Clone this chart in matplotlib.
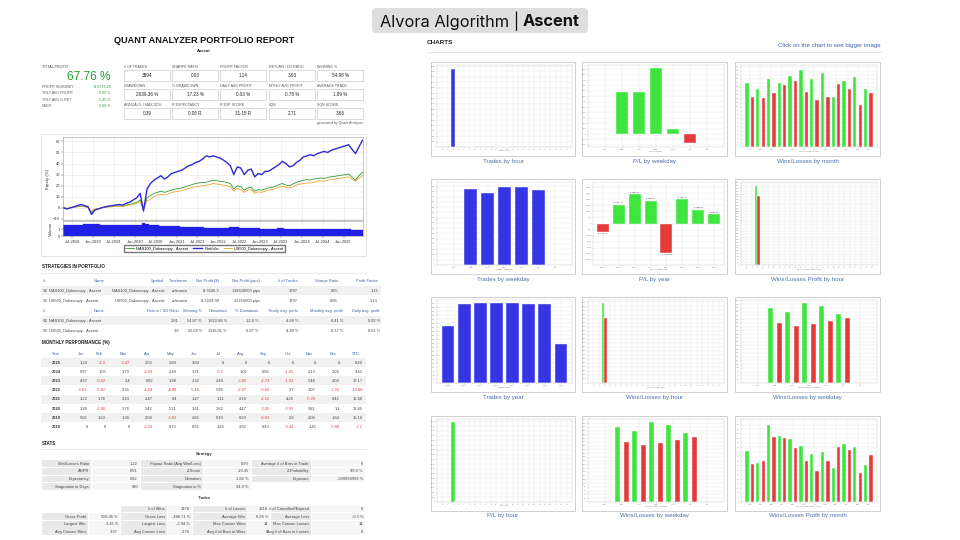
import matplotlib
matplotlib.use('Agg')
import matplotlib.pyplot as plt
import matplotlib.dates as mdates
from matplotlib.patches import Rectangle, FancyBboxPatch
from matplotlib.ticker import MaxNLocator, FuncFormatter
import pandas as pd

plt.rcParams['font.family'] = ['Liberation Sans', 'DejaVu Sans']

# ---------------- data ----------------
stat_labels = [['# OF TRADES', 'SHARPE RATIO', 'PROFIT FACTOR', 'RETURN / DD RATIO', 'WINNING %'],
               ['DRAWDOWN', '% DRAWDOWN', 'DAILY AVG PROFIT', 'MTHLY AVG PROFIT', 'AVERAGE TRADE'],
               ['ANNUAL% / MAX DD%', 'R EXPECTANCY', 'R EXP SCORE', 'SQN', 'SQN SCORE']]
stat_values = [['3594', '0.03', '1.14', '3.93', '54.98 %'],
               ['2639.36 %', '17.23 %', '0.03 %', '0.78 %', '1.89 %'],
               ['0.39', '0.06 R', '31.15 R', '2.71', '3.66']]
left_labels = ['PROFIT IN MONEY', 'YRLY AVG PROFIT', 'YRLY AVG % RET', 'CAGR']
left_values = ['$ 6776.29', '9.05 %', '5.35 %', '5.68 %']

# monthly equity (%) Apr-2018 .. Jun-2025
portfolio = [0, -1, 0, 1, 2, 3, 2, 1, -6,
             -2, -1, 0, 1, 1.5, 2, 2.5, 3, 2.5, 4, 5, 7,
             9, 13, -3, 17, 22, 25, 27, 29, 26, 28, 31, 32,
             33, 34, 36, 38, 39, 41, 42, 44, 47, 46, 47, 46,
             45, 43, 41, 38, 30, 37, 36, 30, 34, 35, 28, 31,
             30, 33, 33, 35, 37, 39, 42, 40, 37, 38, 41, 43,
             46, 47, 48, 47, 49, 50, 51, 50, 52, 53, 54, 55,
             56, 57, 53, 49, 55, 61]
nas100 = [0, -0.5, 0, 0.5, 1, 1.5, 1, 0.5, -4,
          -1.5, -0.5, 0, 0.5, 1, 1.2, 1.5, 1.8, 1.5, 2.5, 3, 4,
          5, 7, -2, 9, 11, 13, 14, 15, 14, 15, 16, 17,
          17.5, 18, 19, 20, 21, 22, 22.5, 23, 23, 24, 25, 24.5,
          24, 23.5, 23, 22, 17, 20, 19, 16, 18, 18.5, 15, 16.5,
          16, 17, 18, 18.5, 19.5, 21, 22, 20.5, 20, 21.5, 23, 24,
          25, 25.5, 25, 26, 26.5, 27, 26.5, 27.5, 28, 28.5, 29, 29.5,
          30, 30.5, 28, 25, 29, 32]
us500 = [0, -0.5, 0, 0.5, 1, 1.5, 1, 0.5, -3,
         -1, -0.5, 0, 0.5, 0.8, 1, 1.2, 1.5, 1.2, 2, 2.5, 3,
         4, 5.5, -1, 6, 8, 10, 11.5, 12.5, 11.5, 12.5, 13.5, 14.5,
         15, 15.5, 16.5, 17.5, 18.5, 19, 19.5, 20, 20.5, 21, 22, 21.5,
         21, 20.5, 20, 19, 15, 17.5, 16.5, 14, 16, 16.5, 13, 14.5,
         14, 15, 16, 16.5, 17.5, 18.5, 19.5, 18.5, 18, 19, 20.5, 21.5,
         22, 22.5, 22.5, 23, 24, 24.5, 24, 25, 25.5, 26, 26.5, 27,
         27.5, 28, 26, 24, 26.5, 29]
volume = [1.6, 1.6, 1.6, 1.6, 1.6, 1.6, 1.65, 1.65, 1.7,
          1.7, 1.65, 1.6, 1.6, 1.55, 1.55, 1.55, 1.5, 1.5, 1.5, 1.5, 1.5,
          1.5, 1.55, 1.8, 1.7, 1.6, 1.55, 1.5, 1.45, 1.45, 1.45, 1.4, 1.4,
          1.4, 1.35, 1.35, 1.3, 1.3, 1.3, 1.25, 1.25, 1.2, 1.2, 1.15, 1.15,
          1.1, 1.15, 1.2, 1.25, 1.3, 1.25, 1.2, 1.2, 1.2, 1.15, 1.15, 1.1,
          1.05, 1.05, 1.05, 1.0, 1.05, 1.1, 1.1, 1.05, 1.05, 1.0, 1.0, 1.0,
          1.0, 1.0, 1.0, 1.0, 1.0, 1.0, 0.95, 0.95, 0.95, 0.95, 0.95, 0.95,
          0.95, 0.95, 0.9, 0.9, 0.9, 0.9]
eq_dates = pd.date_range('2018-04-01', periods=len(portfolio), freq='MS') + pd.Timedelta(days=14)

strat_hdr1 = ['#', 'Name', 'Symbol', 'Timeframe', 'Net Profit ($)', 'Net Profit (pips)', '# of Trades', 'Sharpe Ratio', 'Profit Factor']
strat_rows1 = [['S2', 'NAS100_Dukascopy - Ascent', 'NAS100_Dukascopy - Ascent', 'unknown', '$ 3546.3', '119628000 pips', '1797', '0.05', '1.15'],
               ['S3', 'US500_Dukascopy - Ascent', 'US500_Dukascopy - Ascent', 'unknown', '$ 3229.99', '32216000 pips', '1797', '0.06', '1.13']]
strat_hdr2 = ['#', 'Name', 'Return / DD Ratio', 'Winning %', 'Drawdown', '% Drawdown', 'Yearly avg. profit', 'Monthly avg. profit', 'Daily avg. profit']
strat_rows2 = [['S2', 'NAS100_Dukascopy - Ascent', '2.81', '54.87 %', '1622.68 %', '12.6 %', '4.89 %', '0.41 %', '0.02 %'],
               ['S3', 'US500_Dukascopy - Ascent', '3.6', '55.09 %', '1116.01 %', '6.97 %', '4.48 %', '0.37 %', '0.01 %']]

month_hdr = ['Year', 'Jan', 'Feb', 'Mar', 'Apr', 'May', 'Jun', 'Jul', 'Aug', 'Sep', 'Oct', 'Nov', 'Dec', 'YTD']
perf_years = ['2025', '2024', '2023', '2022', '2021', '2020', '2019', '2018']
perf_rows = [['1.24', '-1.0', '-3.47', '2.53', '3.84', '3.84', '0', '0', '0', '0', '0', '0', '8.48'],
             ['0.97', '1.55', '1.73', '-2.59', '2.49', '1.71', '-0.2', '1.02', '0.58', '-1.01', '2.13', '2.04', '9.42'],
             ['4.97', '-0.62', '2.4', '0.02', '1.98', '3.32', '2.44', '-3.05', '-2.73', '-1.32', '5.48', '2.09', '17.17'],
             ['-3.61', '-0.92', '2.35', '-4.18', '-4.90', '-5.16', '5.98', '-2.07', '-6.82', '3.7', '3.07', '-7.03', '-19.68'],
             ['1.22', '1.78', '3.24', '2.47', '0.4', '1.47', '1.11', '2.18', '-2.52', '4.26', '-0.26', '0.42', '15.68'],
             ['1.38', '-2.96', '3.76', '5.42', '5.31', '1.61', '1.62', '4.47', '-3.92', '-0.93', '5.81', '1.1', '22.65'],
             ['5.02', '1.63', '1.36', '2.04', '-3.81', '2.85', '0.19', '0.29', '-0.93', '2.9', '2.06', '1.84', '16.16'],
             ['0', '0', '0', '-2.22', '0.73', '0.93', '1.45', '2.62', '0.43', '-3.34', '1.45', '-5.68', '-7.2']]

strategy_stats = [['Win/Losses Ratio', '1.22', 'Payout Ratio (Avg Win/Loss)', '0.93', 'Average # of Bars in Trade', '0'],
                  ['AHPR', '0.01', 'Z-Score', '-20.35', 'Z-Probability', '99.9 %'],
                  ['Expectancy', '0.02', 'Deviation', '1.82 %', 'Exposure', '-999999999 %'],
                  ['Stagnation in Days', '920', 'Stagnation in %', '34.9 %', '', '']]
trade_stats = [['', '', '# of Wins', '1976', '# of Losses', '1618', '# of Cancelled/Expired', '0'],
               ['Gross Profit', '556.45 %', 'Gross Loss', '-488.71 %', 'Average Win', '0.28 %', 'Average Loss', '-0.3 %'],
               ['Largest Win', '3.45 %', 'Largest Loss', '-2.94 %', 'Max Consec Wins', '14', 'Max Consec Losses', '14'],
               ['Avg Consec Wins', '3.37', 'Avg Consec Loss', '2.76', 'Avg # of Bars in Wins', '0', 'Avg # of Bars in Losses', '0']]

hours = list(range(24))
trades_by_hour = [0, 0, 3594] + [0] * 21
pl_by_hour = [0, 0, 6776.29] + [0] * 21
wins_by_hour = [0, 0, 1976] + [0] * 21
losses_by_hour = [0, 0, 1618] + [0] * 21
win_profit_by_hour = [0, 0, 556.45] + [0] * 21
loss_profit_by_hour = [0, 0, 488.71] + [0] * 21
weekdays = ['Sun', 'Mon', 'Tue', 'Wed', 'Thu', 'Fri', 'Sat']
pl_by_weekday = [0, 1950, 1950, 3040, 257, -423, 0]
trades_by_weekday = [0, 720, 682, 738, 738, 716, 0]
wins_by_weekday = [0, 397, 378, 424, 408, 369, 0]
losses_by_weekday = [0, 322, 304, 313, 331, 347, 0]
months = ['Jan', 'Feb', 'Mar', 'Apr', 'May', 'Jun', 'Jul', 'Aug', 'Sep', 'Oct', 'Nov', 'Dec']
wins_by_month = [161, 146, 171, 160, 178, 193, 171, 186, 126, 165, 174, 146]
losses_by_month = [124, 123, 134, 155, 164, 138, 118, 126, 158, 146, 105, 134]
win_profit_by_month = [44.6, 34.0, 68.0, 58.1, 55.4, 49.0, 41.9, 44.3, 29.6, 50.7, 48.4, 32.3]
loss_profit_by_month = [33.0, 35.7, 57.6, 56.1, 47.1, 36.5, 27.2, 35.7, 48.5, 45.3, 25.1, 40.9]
years = ['2018', '2019', '2020', '2021', '2022', '2023', '2024', '2025']
pl_by_year = [-719.42, 1577.71, 2462.35, 1908.17, -2462.48, 2047.23, 1162.05, 802.39]
trades_by_year = [357, 498, 500, 502, 500, 496, 498, 244]

BLUE, GREEN, RED = '#3535e4', '#3fe43f', '#e43a3a'
HDR = '#41609e'

# ---------------- canvas ----------------
fig = plt.figure(figsize=(9.6, 5.4), dpi=100)
bg = fig.add_axes([0, 0, 1, 1])
bg.set_xlim(0, 960)
bg.set_ylim(540, 0)
bg.axis('off')


def px_axes(x0, y0, x1, y1):
    return fig.add_axes([x0 / 960, 1 - y1 / 540, (x1 - x0) / 960, (y1 - y0) / 540])


def box(x0, y0, x1, y1, fc, ec='none', lw=0.5):
    bg.add_patch(Rectangle((x0, y0), x1 - x0, y1 - y0, fc=fc, ec=ec, lw=lw))


def txt(x, y, s, size=3.0, ha='left', color='#333333', weight='normal', **kw):
    bg.text(x, y, s, fontsize=size, ha=ha, va='center', color=color, fontweight=weight, **kw)


# header
bg.add_patch(FancyBboxPatch((372, 8), 216, 25, boxstyle='round,pad=0,rounding_size=4', fc='#dedede', ec='none'))
txt(519, 21, 'Alvora Algorithm |', size=11.8, ha='right', color='#111111', family='Inter')
txt(523, 21, 'Ascent', size=11.8, color='#111111', weight='bold', family='Inter')

# report title
txt(204, 40.5, 'QUANT ANALYZER PORTFOLIO REPORT', size=6.6, ha='center', color='#111111', weight='bold')
txt(204, 51, 'Ascent', size=3.0, ha='center', color='#222222', weight='bold')

txt(42, 66.7, 'TOTAL PROFIT', size=2.7, color='#444444')
txt(110.5, 76.5, '67.76 %', size=8.6, ha='right', color='#22a030')
for i, (lab, val) in enumerate(zip(left_labels, left_values)):
    y = 87 + i * 6.4
    txt(42, y, lab, size=2.6, color='#555555')
    txt(111, y, val, size=2.7, ha='right', color='#22a030')

stat_x = [124, 172, 220, 269, 317]
stat_rows_y = [(66.7, 69.5, 80.7), (86, 88.7, 100), (105.3, 108, 119.3)]
for r, (ly, by0, by1) in enumerate(stat_rows_y):
    for c, x in enumerate(stat_x):
        txt(x, ly, stat_labels[r][c], size=2.6, color='#555555')
        box(x, by0, x + 46, by1, fc='white', ec='#cccccc', lw=0.5)
        txt(x + 23, (by0 + by1) / 2, stat_values[r][c], size=3.3, ha='center', color='#222222')
txt(363, 122.7, 'generated by Quant Analyzer', size=2.5, ha='right', color='#555555')

# equity chart
box(41, 134, 366, 256, fc='white', ec='#dddddd', lw=0.6)
ax_eq = px_axes(63, 137, 363, 220)
ax_vol = px_axes(63, 221, 363, 236.5)
l_nas, = ax_eq.plot(eq_dates, nas100, color='#2e9a2e', lw=0.6)
l_us, = ax_eq.plot(eq_dates, us500, color='#e8a630', lw=0.6)
l_port, = ax_eq.plot(eq_dates, portfolio, color='#2b2bd0', lw=1.0)
ax_vol.bar(eq_dates, volume, width=31, color='#1f1fe6', edgecolor='#1f1fe6', lw=0.2)
x_lo, x_hi = pd.Timestamp('2018-04-10'), pd.Timestamp('2025-06-20')
for ax in (ax_eq, ax_vol):
    ax.set_xlim(x_lo, x_hi)
    ax.xaxis.set_major_locator(mdates.MonthLocator(bymonth=[1, 7]))
    ax.grid(True, color='#e8e8e8', lw=0.4)
    ax.set_axisbelow(True)
    ax.tick_params(labelsize=2.9, length=1.2, width=0.3, pad=1, colors='#333333')
    for s in ax.spines.values():
        s.set_color('#999999')
        s.set_linewidth(0.4)
ax_eq.set_ylim(-11, 64)
ax_eq.set_yticks([-10, 0, 10, 20, 30, 40, 50, 60])
ax_eq.tick_params(labelbottom=False)
ax_eq.set_ylabel('Equity (%)', fontsize=3.2, labelpad=2, color='#333333')
ax_vol.set_ylim(0, 2.1)
ax_vol.set_yticks([0, 1])
ax_vol.set_ylabel('Volume', fontsize=3.2, labelpad=3.5, color='#333333')
ax_vol.xaxis.set_major_formatter(mdates.DateFormatter('%b-%Y'))
fig.legend([l_nas, l_port, l_us], ['NAS100_Dukascopy - Ascent', 'Portfolio', 'US500_Dukascopy - Ascent'],
           loc='center', bbox_to_anchor=(204.5 / 960, 1 - 248.5 / 540), ncol=3, fontsize=2.9,
           frameon=True, fancybox=False, edgecolor='#777777', handlelength=2.2, borderpad=0.35,
           columnspacing=1.2, handletextpad=0.5, framealpha=1)

# strategies in portfolio
txt(42, 266, 'STRATEGIES IN PORTFOLIO', size=3.3, color='#222222', weight='bold')
bg.plot([41, 366], [272.5, 272.5], color='#e2e2e2', lw=0.5)
col1 = [(43, 'left'), (99, 'center'), (164, 'right'), (188, 'right'), (219, 'right'),
        (260, 'right'), (298, 'right'), (338, 'right'), (378, 'right')]
col2 = [(43, 'left'), (99, 'center'), (179, 'right'), (202, 'right'), (227, 'right'),
        (258, 'right'), (298, 'right'), (343, 'right'), (380, 'right')]
sections = [(strat_hdr1, strat_rows1, col1, 280.7), (strat_hdr2, strat_rows2, col2, 310.7)]
for hdr, rows, cols, y0 in sections:
    for (x, ha), h in zip(cols, hdr):
        txt(x, y0, h, size=2.9, ha=ha, color=HDR)
    for i, row in enumerate(rows):
        y = y0 + 10 * (i + 1)
        if i == 0:
            box(41, y - 4.5, 381, y + 4.5, fc='#f1f1f1')
        for j, ((x, ha), v) in enumerate(zip(cols, row)):
            if j == 1:
                x, ha = 49, 'left'
            txt(x, y, v, size=2.9, ha=ha, color='#444444')

# monthly performance
txt(42, 342.5, 'MONTHLY PERFORMANCE (%)', size=3.3, color='#222222', weight='bold')
mcol = [56, 87.5, 106, 130, 153, 177, 200, 224, 247, 270, 294, 316, 340, 363]
txt(mcol[0], 354, month_hdr[0], size=2.9, ha='center', color=HDR)
for x, h in zip(mcol[1:], month_hdr[1:]):
    txt(x - 3, 354, h, size=2.9, ha='right', color=HDR)
for i, (yr, row) in enumerate(zip(perf_years, perf_rows)):
    y = 362.5 + i * 9.2
    if i % 2 == 0:
        box(41, y - 4.5, 366, y + 4.5, fc='#f1f1f1')
    txt(mcol[0], y, yr, size=2.9, ha='center', color='#333333', weight='bold')
    for x, v in zip(mcol[1:], row):
        txt(x, y, v, size=2.9, ha='right', color='#e8383d' if v.startswith('-') else '#444444')

# stats
txt(42, 443.3, 'STATS', size=3.3, color='#222222', weight='bold')
bg.plot([41, 366], [448.5, 448.5], color='#e2e2e2', lw=0.5)
txt(204, 454, 'Strategy', size=3.0, ha='center', color='#333333', weight='bold')
s_cells = [(42, 92), (92, 141), (141, 204), (204, 252), (252, 312), (312, 366)]
for i, row in enumerate(strategy_stats):
    y = 463.7 + i * 7.65
    for j, ((a, b), v) in enumerate(zip(s_cells, row)):
        if v == '':
            continue
        box(a, y - 3.4, b - 0.8, y + 3.4, fc='#e9e9e9' if j % 2 == 0 else '#f6f6f6')
        txt(b - 3, y, v, size=2.9, ha='right', color='#444444')
txt(204, 498.3, 'Trades', size=3.0, ha='center', color='#333333', weight='bold')
t_cells = [(42, 89), (89, 121), (121, 168), (168, 193), (193, 248), (248, 271), (271, 312), (312, 366)]
for i, row in enumerate(trade_stats):
    y = 509 + i * 7.6
    for j, ((a, b), v) in enumerate(zip(t_cells, row)):
        if v == '':
            continue
        box(a, y - 3.4, b - 0.8, y + 3.4, fc='#e9e9e9' if j % 2 == 0 else '#f6f6f6')
        txt(b - 3, y, v, size=2.9, ha='right', color='#444444')

# charts panel
txt(427, 43, 'CHARTS', size=4.6, color='#222222', weight='bold')
txt(881, 45.5, 'Click on the chart to see bigger image', size=4.4, ha='right', color='#3f63a8')
bg.plot([427, 881], [51.5, 51.5], color='#dddddd', lw=0.6)

cols_x = [(431, 575), (582, 727), (735, 880)]
rows_y = [(62, 156), (179, 274), (297, 392), (416, 511)]


def thumb(r, c, caption, xlabel, ylim, nbins=18, left=6):
    x0, x1 = cols_x[c]
    y0, y1 = rows_y[r]
    box(x0 + 1, y0 + 1, x1 + 1, y1 + 1, fc='#eeeeee')
    box(x0, y0, x1, y1, fc='white', ec='#cfcfcf', lw=0.7)
    txt((x0 + x1) / 2, y1 + 5, caption, size=4.4, ha='center', color='#4a6ea9')
    ax = px_axes(x0 + left, y0 + 3, x1 - 3, y1 - 9)
    ax.set_ylim(*ylim)
    ax.yaxis.set_major_locator(MaxNLocator(nbins))
    ax.tick_params(labelsize=1.5, length=0.6, width=0.2, colors='#777777', pad=0.6)
    for s in ax.spines.values():
        s.set_color('#cccccc')
        s.set_linewidth(0.3)
    ax.grid(True, color='#e6e6e6', lw=0.3)
    ax.set_axisbelow(True)
    ax.set_xlabel(xlabel, fontsize=1.5, color='#777777', labelpad=0.6)
    return ax


def bars(ax, cats, vals, colors, width=0.75, offset=0.0):
    pos = [i + offset for i in range(len(cats))]
    ax.bar(pos, vals, width=width, color=colors, edgecolor='white', lw=0.3)
    ax.set_xticks(range(len(cats)))
    ax.set_xticklabels(cats)
    ax.set_xlim(-1, len(cats))


ax = thumb(0, 0, 'Trades by hour', 'Trades / hour', (0, 3800))
bars(ax, hours, trades_by_hour, BLUE, width=0.7)

ax = thumb(0, 1, 'P/L by weekday', 'P/L / weekday', (-600, 3200))
bars(ax, weekdays, pl_by_weekday, [GREEN if v >= 0 else RED for v in pl_by_weekday])

ax = thumb(0, 2, 'Wins/Losses by month', 'Wins/Losses / month', (0, 205), nbins=22)
bars(ax, months, wins_by_month, GREEN, width=0.3, offset=-0.25)
bars(ax, months, losses_by_month, RED, width=0.3, offset=0.25)
ax.set_xlim(-0.8, 11.8)

ax = thumb(1, 0, 'Trades by weekday', 'Trades / weekday', (0, 790))
bars(ax, weekdays, trades_by_weekday, BLUE)

ax = thumb(1, 1, 'P/L by year', 'P/L / calendar year', (-3450, 3450), nbins=14, left=11)
bars(ax, years, pl_by_year, [GREEN if v >= 0 else RED for v in pl_by_year])
ax.set_xlim(-0.6, 7.6)
ax.yaxis.set_major_formatter(FuncFormatter(lambda v, p: f'{v:,.0f}'))
for i, v in enumerate(pl_by_year):
    ax.text(i, v + (90 if v >= 0 else -90), f'$ {v:.2f}', fontsize=1.5, ha='center',
            va='bottom' if v >= 0 else 'top', color='#444444')

ax = thumb(1, 2, 'Wins/Losses Profit by hour', 'Wins/Losses Profit / hour', (0, 585), nbins=30)
bars(ax, hours, win_profit_by_hour, GREEN, width=0.4, offset=-0.22)
bars(ax, hours, loss_profit_by_hour, RED, width=0.4, offset=0.22)

ax = thumb(2, 0, 'Trades by year', 'Trades / Year', (0, 520), nbins=24)
bars(ax, years, trades_by_year, BLUE, width=0.77)
ax.set_xlim(-0.7, 7.7)

ax = thumb(2, 1, 'Wins/Losses by hour', 'Wins/Losses / hour', (0, 2060), nbins=22)
bars(ax, hours, wins_by_hour, GREEN, width=0.4, offset=-0.22)
bars(ax, hours, losses_by_hour, RED, width=0.4, offset=0.22)

ax = thumb(2, 2, 'Wins/Losses by weekday', 'Wins/Losses / weekday', (0, 442), nbins=24)
bars(ax, weekdays, wins_by_weekday, GREEN, width=0.3, offset=-0.25)
bars(ax, weekdays, losses_by_weekday, RED, width=0.3, offset=0.25)

ax = thumb(3, 0, 'P/L by hour', 'P/L / hour', (0, 7000))
bars(ax, hours, pl_by_hour, GREEN, width=0.7)

ax = thumb(3, 1, 'Wins/Losses by weekday', 'Wins/Losses / weekday', (0, 442), nbins=24)
bars(ax, weekdays, wins_by_weekday, GREEN, width=0.3, offset=-0.25)
bars(ax, weekdays, losses_by_weekday, RED, width=0.3, offset=0.25)

ax = thumb(3, 2, 'Wins/Losses Profit by month', 'Wins/Losses Profit / month', (0, 73), nbins=20)
bars(ax, months, win_profit_by_month, GREEN, width=0.3, offset=-0.25)
bars(ax, months, loss_profit_by_month, RED, width=0.3, offset=0.25)
ax.set_xlim(-0.8, 11.8)

fig.savefig('out.png', dpi=100, facecolor='white')
